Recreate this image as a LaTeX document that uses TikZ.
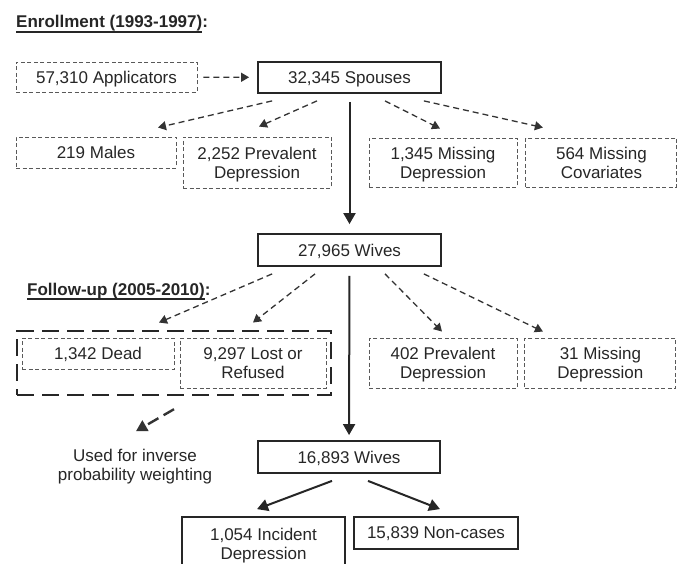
\documentclass[tikz,border=0pt]{standalone}
\usepackage{fontspec}
\setmainfont{Liberation Sans}
\newcommand{\thickul}[1]{\leavevmode\setbox0\hbox{#1}\rlap{\rule[-4.6pt]{\wd0}{1.5pt}}\box0}
\usetikzlibrary{arrows.meta, positioning, fit}

\begin{document}
\begin{tikzpicture}[x=1pt, y=-1pt, font=\fontsize{17}{19}\selectfont, text=black!85,
    every node/.style={inner sep=0pt, align=center, text depth=0pt}]
  \tikzstyle{outbox}=[draw=black!65, dash pattern=on 4pt off 2.5pt, line width=0.9pt]
  \tikzstyle{keptbox}=[draw=black!85, line width=1.8pt]
  \tikzstyle{droparrow}=[draw=black!80, -{Triangle[length=8pt,width=9pt]}, line width=1.3pt, dash pattern=on 6pt off 4pt]
  \tikzstyle{keeparrow}=[draw=black!85, -{Triangle[length=11pt,width=12pt]}, line width=2pt]
  \useasboundingbox (0,0) rectangle (683,564);

  % enrollment
  \node[anchor=base west] (enrolltitle) at (16,28) {\textbf{\thickul{Enrollment (1993-1997)}:}};
  \node[outbox, minimum width=181pt, minimum height=30pt] (applicators) at (106.5,77) {57,310 Applicators};
  \node[keptbox, minimum width=183pt, minimum height=31pt] (spouses) at (349.5,77.5) {32,345 Spouses};
  \node[outbox, minimum width=160pt, minimum height=31pt] (males) at (96,152.5) {219 Males};
  \node[outbox, minimum width=148pt, minimum height=51pt] (prevalent) at (257,162.5) {2,252 Prevalent\\Depression};
  \node[outbox, minimum width=148pt, minimum height=49pt] (missingdep) at (443,162.5) {1,345 Missing\\Depression};
  \node[outbox, minimum width=151pt, minimum height=49pt, right=8pt of missingdep] (missingcov) {564 Missing\\Covariates};
  \node[keptbox, minimum width=183pt, minimum height=32pt] (wives) at (349.5,250) {27,965 Wives};

  % follow-up
  \node[anchor=base west] (followtitle) at (27,295) {\textbf{\thickul{Follow-up (2005-2010)}:}};
  \node[outbox, minimum width=152pt, minimum height=31pt] (dead) at (98,353.5) {1,342 Dead};
  \node[outbox, minimum width=146pt, minimum height=50pt] (lost) at (253,363) {9,297 Lost or\\Refused};
  \node[draw=black!85, line width=2.5pt, dash pattern=on 17pt off 8pt, inner xsep=4.5pt, inner ysep=6.5pt, fit=(dead) (lost)] (lostgroup) {};
  \node[outbox, minimum width=148pt, minimum height=50pt] (prevalentfu) at (443,363) {402 Prevalent\\Depression};
  \node[outbox, minimum width=151pt, minimum height=50pt, right=7pt of prevalentfu] (missingfu) {31 Missing\\Depression};
  \node (ipw) at (135,465) {Used for inverse\\probability weighting};
  \node[keptbox, minimum width=182pt, minimum height=32pt] (finalwives) at (349,457) {16,893 Wives};
  \node[keptbox, minimum width=163pt, minimum height=53pt] (incident) at (263.5,543.5) {1,054 Incident\\Depression};
  \node[keptbox, minimum width=164pt, minimum height=32pt] (noncases) at (436,533) {15,839 Non-cases};

  \path
    (applicators) edge[droparrow, shorten <=6pt, shorten >=8pt] (spouses)
    ([xshift=15pt,yshift=-7pt]spouses.south west) edge[droparrow] ([xshift=62pt,yshift=9pt]males.north)
    ([xshift=-32.5pt,yshift=-7pt]spouses.south) edge[droparrow] ([xshift=2pt,yshift=10pt]prevalent.north)
    ([xshift=35.5pt,yshift=-7pt]spouses.south) edge[droparrow] ([xshift=-3pt,yshift=9pt]missingdep.north)
    ([xshift=-18pt,yshift=-7pt]spouses.south east) edge[droparrow] ([xshift=-58.5pt,yshift=10pt]missingcov.north)
    ([xshift=15pt,yshift=-7pt]wives.south west) edge[droparrow] ([xshift=61pt,yshift=15pt]dead.north)
    ([xshift=-34.5pt,yshift=-7pt]wives.south) edge[droparrow] ([yshift=15pt]lost.north)
    ([xshift=35.5pt,yshift=-7pt]wives.south) edge[droparrow] ([xshift=-1pt,yshift=6pt]prevalentfu.north)
    ([xshift=-18pt,yshift=-7pt]wives.south east) edge[droparrow] ([xshift=-57.5pt,yshift=6pt]missingfu.north)
    ([yshift=-13pt]lostgroup.south) edge[droparrow, line width=2.4pt, dash pattern=on 12pt off 6pt, -{Triangle[length=11pt,width=12pt]}] ([xshift=1pt,yshift=18pt]ipw.north);

  \path
    (spouses) edge[keeparrow, shorten <=8pt, shorten >=9pt] (wives)
    (wives) edge[keeparrow, shorten <=9pt, shorten >=5pt] (finalwives)
    ([xshift=-17pt,yshift=-7pt]finalwives.south) edge[keeparrow] ([xshift=-6.5pt,yshift=7pt]incident.north)
    ([xshift=19pt,yshift=-7pt]finalwives.south) edge[keeparrow] ([xshift=4pt,yshift=7pt]noncases.north);
\end{tikzpicture}
\end{document}
